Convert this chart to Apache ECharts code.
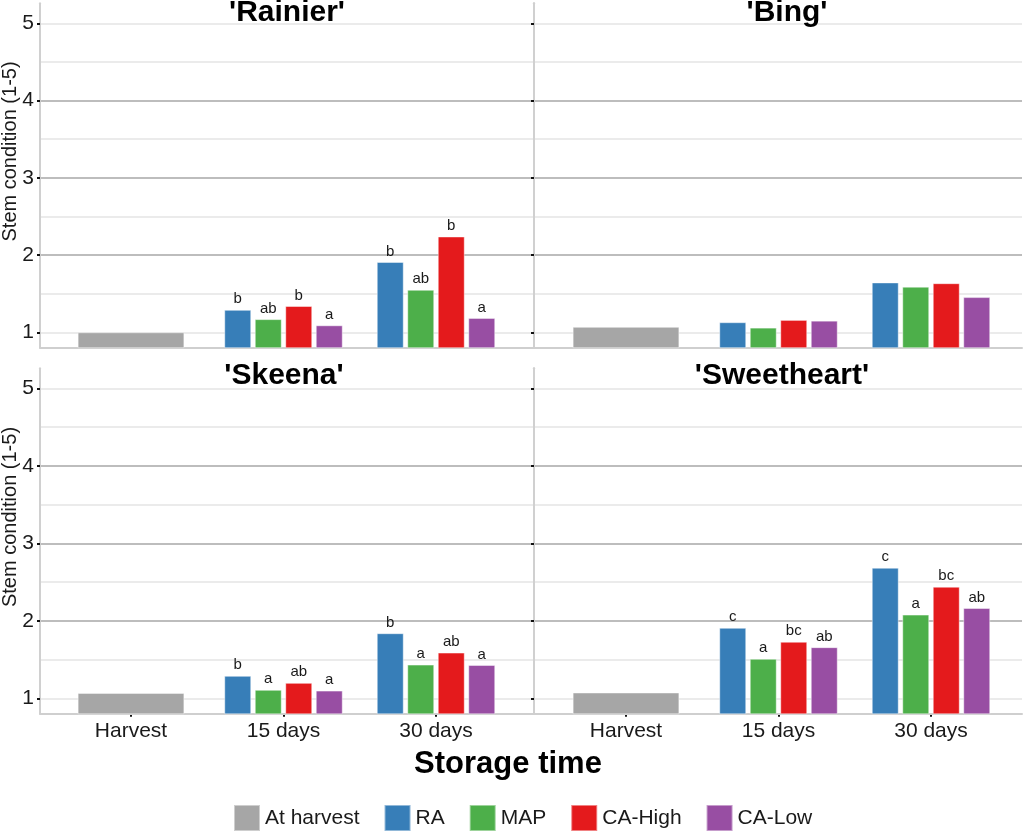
<!DOCTYPE html>
<html>
<head>
<meta charset="utf-8">
<title>Stem condition</title>
<script src="https://cdn.jsdelivr.net/npm/echarts@6/dist/echarts.min.js"></script>
<style>
    html, body { margin: 0; padding: 0; background: #fff; }
    #main { width: 1024px; height: 832px; }
</style>
</head>
<body>
<div id="main"></div>
<script>
// 储存时间 / 品种 / 处理
var times = ['Harvest', '15 days', '30 days'];
var cultivars = ["'Rainier'", "'Bing'", "'Skeena'", "'Sweetheart'"];
var treatments = ['RA', 'MAP', 'CA-High', 'CA-Low'];
var yTicks = [1, 2, 3, 4, 5];

// at harvest, one value per cultivar
var atHarvest = [1.00, 1.07, 1.07, 1.075];
// [15 days, 30 days] per cultivar
var ra     = [[1.29, 1.91], [1.13, 1.645], [1.29, 1.84], [1.91, 2.685]];
var map    = [[1.17, 1.55], [1.06, 1.59], [1.11, 1.435], [1.51, 2.08]];
var caHigh = [[1.34, 2.24], [1.16, 1.635], [1.20, 1.59], [1.73, 2.44]];
var caLow  = [[1.09, 1.185], [1.15, 1.455], [1.10, 1.43], [1.66, 2.165]];

// significance letters
var raLetters     = [['b', 'b'], ['', ''], ['b', 'b'], ['c', 'c']];
var mapLetters    = [['ab', 'ab'], ['', ''], ['a', 'a'], ['a', 'a']];
var caHighLetters = [['b', 'b'], ['', ''], ['ab', 'ab'], ['bc', 'bc']];
var caLowLetters  = [['a', 'a'], ['', ''], ['a', 'a'], ['ab', 'ab']];

var harvestColor = '#a6a6a6';
var colors = ['#377eb8', '#4daf4a', '#e41a1c', '#984ea3'];
var values = [ra, map, caHigh, caLow];
var letters = [raLetters, mapLetters, caHighLetters, caLowLetters];

var FONT = '"Liberation Sans", Arial, sans-serif';
var TXT = '#1a1a1a';
var BAND = 152.5;
var YMIN = 0.8, YMAX = 5.26;

// panel layout
var panels = [
    {frameLeft: 40,  frameWidth: 494, barLeft: 54.75,  top: 3.2,   height: 344.5, yLabels: true,  xLabels: false, rightEdge: false, titleX: 287, titleY: 13},
    {frameLeft: 534, frameWidth: 488, barLeft: 549.75, top: 3.2,   height: 344.5, yLabels: false, xLabels: false, rightEdge: true,  titleX: 787, titleY: 13},
    {frameLeft: 40,  frameWidth: 494, barLeft: 54.75,  top: 368.2, height: 345.6, yLabels: true,  xLabels: true,  rightEdge: false, titleX: 284, titleY: 376},
    {frameLeft: 534, frameWidth: 488, barLeft: 549.75, top: 368.2, height: 345.6, yLabels: false, xLabels: true,  rightEdge: true,  titleX: 782, titleY: 376}
];

var grid = [], xAxis = [], yAxis = [], series = [], graphic = [];

panels.forEach(function (p, i) {
    var frameGrid = grid.length;
    grid.push({left: p.frameLeft, top: p.top, width: p.frameWidth, height: p.height});
    var barGrid = grid.length;
    grid.push({left: p.barLeft, top: p.top, width: BAND * 3, height: p.height});

    // frame x (bottom line only)
    xAxis.push({
        gridIndex: frameGrid, type: 'value', min: 0, max: 1, z: 1,
        axisLine: {show: true, lineStyle: {color: '#cfcfcf', width: 2}},
        axisTick: {show: false}, axisLabel: {show: false}, splitLine: {show: false}
    });
    var mainX = xAxis.length;
    xAxis.push({
        gridIndex: barGrid, type: 'category', data: times, boundaryGap: true,
        axisLine: {show: false},
        axisTick: {show: p.xLabels, alignWithLabel: true, length: 3, lineStyle: {color: '#111', width: 2}},
        axisLabel: {show: p.xLabels, fontSize: 21, color: TXT, fontFamily: FONT, margin: 7},
        splitLine: {show: false}
    });
    var grayX = xAxis.length;
    xAxis.push({gridIndex: barGrid, type: 'category', data: times, show: false});

    // minor lines (1.5, 2.5 ...), drawn below
    yAxis.push({
        gridIndex: frameGrid, type: 'value', min: YMIN, max: YMAX, splitNumber: 9, position: 'right', z: 0,
        axisLine: {show: p.rightEdge, lineStyle: {color: '#d0d0d0', width: 2}},
        axisTick: {show: false}, axisLabel: {show: false},
        splitLine: {show: true, showMinLine: false, showMaxLine: false, lineStyle: {color: '#e4e4e4', width: 1.5}}
    });
    // major lines and labels
    yAxis.push({
        gridIndex: frameGrid, type: 'value', min: YMIN, max: YMAX, splitNumber: 5, position: 'left', z: 1,
        axisLine: {show: true, lineStyle: {color: '#d0d0d0', width: 2}},
        axisTick: {show: true, customValues: yTicks, length: 3, lineStyle: {color: '#111', width: 2}},
        axisLabel: {show: p.yLabels, customValues: yTicks, fontSize: 21, color: TXT, fontFamily: FONT, margin: 6},
        splitLine: {show: true, showMinLine: false, showMaxLine: false, lineStyle: {color: '#bdbdbd', width: 2}}
    });
    var barY = yAxis.length;
    yAxis.push({gridIndex: barGrid, type: 'value', min: YMIN, max: YMAX, show: false, splitLine: {show: false}});

    series.push({
        name: 'At harvest', type: 'bar', xAxisIndex: grayX, yAxisIndex: barY,
        barWidth: '70%', z: 2,
        itemStyle: {color: harvestColor, borderColor: 'rgba(255,255,255,0.45)', borderWidth: 1},
        data: [atHarvest[i], '-', '-']
    });

    treatments.forEach(function (t, k) {
        series.push({
            name: t, type: 'bar', xAxisIndex: mainX, yAxisIndex: barY,
            barWidth: '17.7%', barGap: '13%', z: 2,
            itemStyle: {color: colors[k], borderColor: 'rgba(255,255,255,0.45)', borderWidth: 1},
            label: {
                show: true, position: 'top', distance: 3,
                fontSize: 15, color: TXT, fontFamily: FONT,
                formatter: function (params) {
                    return letters[k][i][params.dataIndex - 1] || '';
                }
            },
            data: ['-', values[k][i][0], values[k][i][1]]
        });
    });

    graphic.push({
        type: 'text', x: p.titleX, y: p.titleY, z: 10,
        style: {text: cultivars[i], font: 'bold 30px ' + FONT, fill: '#000', align: 'center', verticalAlign: 'middle'}
    });
    if (p.yLabels) {
        graphic.push({
            type: 'text', x: 10, y: p.top + p.height / 2 - 24, rotation: Math.PI / 2,
            style: {text: 'Stem condition (1-5)', font: '20px ' + FONT, fill: TXT, align: 'center', verticalAlign: 'middle'}
        });
    }
});

graphic.push({
    type: 'text', x: 508, y: 764,
    style: {text: 'Storage time', font: 'bold 31px ' + FONT, fill: '#000', align: 'center', verticalAlign: 'middle'}
});

var myChart = echarts.init(document.getElementById('main'));
var option = {
    backgroundColor: '#fff',
    animation: false,
    textStyle: {fontFamily: FONT},
    legend: {
        data: ['At harvest'].concat(treatments),
        left: 228, top: 799,
        icon: 'rect', itemWidth: 26, itemHeight: 26, itemGap: 24,
        textStyle: {fontSize: 21, color: TXT, fontFamily: FONT}
    },
    grid: grid,
    xAxis: xAxis,
    yAxis: yAxis,
    series: series,
    graphic: graphic
};
myChart.setOption(option);
</script>
</body>
</html>
